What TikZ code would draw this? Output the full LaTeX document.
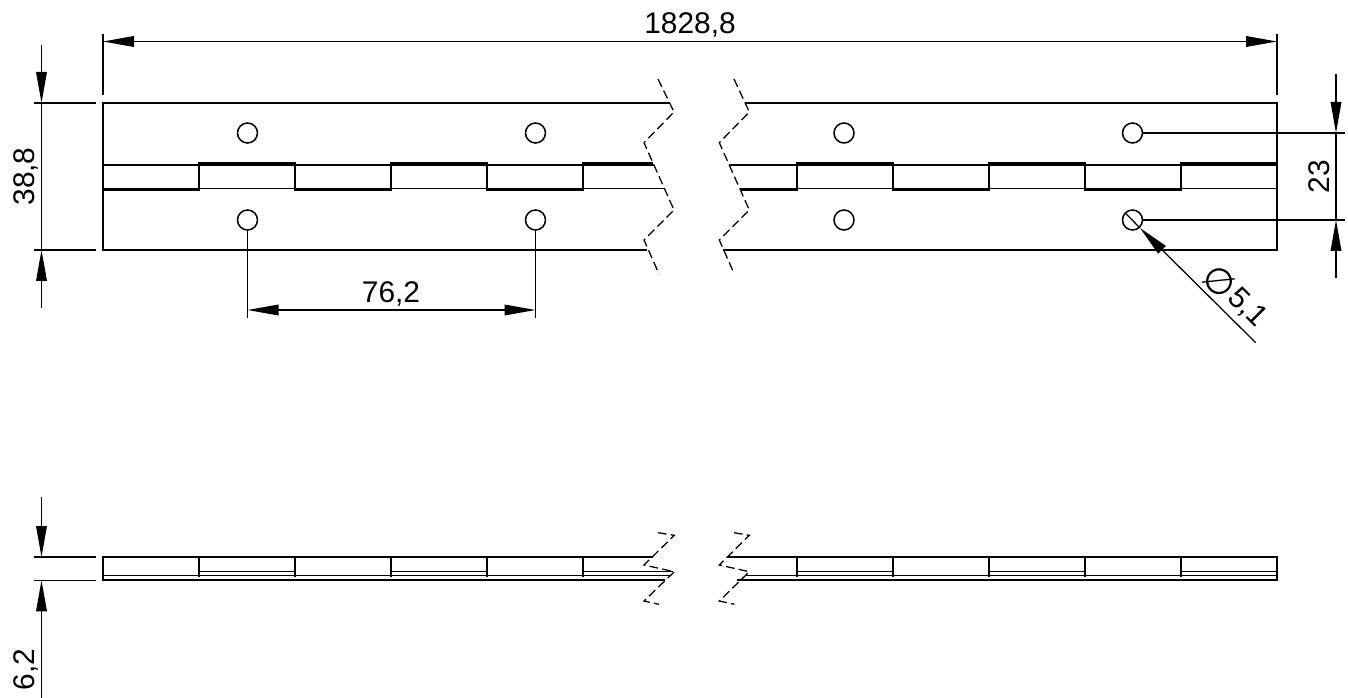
\documentclass[tikz,border=0pt]{standalone}
\usepackage{fontspec}
\setmainfont{Liberation Sans}
\newfontfamily\symfont{DejaVu Sans}
\usetikzlibrary{arrows.meta}
\tikzset{
  x=0.75pt,y=-0.75pt,
  thinline/.style={line width=1.0pt,black},
  heavy/.style={line width=1.4pt,black},
  dimline/.style={line width=0.95pt,black},
  dimarrow/.style={dimline,-{Triangle[length=23.25pt,width=8pt]}},
  breakline/.style={line width=0.95pt,black,dash pattern=on 6.5pt off 3.2pt},
  hole/.style={circle,draw,line width=1.15pt,minimum size=15pt,inner sep=0pt},
  dimtext/.style={font=\fontsize{22.4pt}{24pt}\selectfont,inner sep=0pt,anchor=base},
  phitext/.style={font=\fontsize{27pt}{28pt}\selectfont\symfont,inner sep=0pt},
}
\begin{document}
\begin{tikzpicture}
\useasboundingbox (0,0) rectangle (1348,698);
% ---------- plan view outline
\draw[heavy] (670,103) -- (103,103) -- (103,250) -- (647,250);
\draw[heavy] (745,103) -- (1277,103) -- (1277,250) -- (723,250);
% knuckles, left part
\draw[heavy] (103,165) -- (199,165);
\draw[heavy] (103,188.7) -- (199,188.7);
\draw[heavy] (103,190.5) -- (199,190.5);
\foreach \a/\b in {199/295,391/487}{
  \draw[heavy] (\a,163) -- (\b,163);
  \draw[heavy] (\a,165) -- (\b,165);
  \draw[thinline] (\a,188.5) -- (\b,188.5);
}
\foreach \a/\b in {295/391,487/583}{
  \draw[heavy] (\a,165) -- (\b,165);
  \draw[heavy] (\a,188.7) -- (\b,188.7);
  \draw[heavy] (\a,190.5) -- (\b,190.5);
}
\draw[heavy] (583,163) -- (652.5,163);
\draw[heavy] (583,165) -- (653.5,165);
\draw[thinline] (583,188.5) -- (664,188.5);
\foreach \v in {199,295,391,487,583}{\draw[heavy] (\v,162.3) -- (\v,191.2);}
% knuckles, right part
\draw[heavy] (729,165) -- (797,165);
\draw[heavy] (740,188.7) -- (797,188.7);
\draw[heavy] (741,190.5) -- (797,190.5);
\foreach \a/\b in {797/893,989/1085,1181/1277}{
  \draw[heavy] (\a,163) -- (\b,163);
  \draw[heavy] (\a,165) -- (\b,165);
  \draw[thinline] (\a,188.5) -- (\b,188.5);
}
\foreach \a/\b in {893/989,1085/1181}{
  \draw[heavy] (\a,165) -- (\b,165);
  \draw[heavy] (\a,188.7) -- (\b,188.7);
  \draw[heavy] (\a,190.5) -- (\b,190.5);
}
\foreach \v in {797,893,989,1085,1181}{\draw[heavy] (\v,162.3) -- (\v,191.2);}
% break lines, plan view
\draw[breakline] (658,79) -- (674,112) -- (644,142.7) -- (674,210) -- (644,240) -- (659,274);
\draw[breakline] (734,79) -- (749.3,112) -- (719.3,142.7) -- (749.3,210) -- (719.3,240) -- (734.3,274);
% holes
\node[hole] (h1) at (247.5,133) {};
\node[hole] (h2) at (535.5,133) {};
\node[hole] (h3) at (844,133) {};
\node[hole] (h4) at (1132.5,133) {};
\node[hole] (h5) at (247.5,220) {};
\node[hole] (h6) at (535.5,220) {};
\node[hole] (h7) at (844,220) {};
\node[hole] (h8) at (1132.5,220) {};
% ---------- overall length
\coordinate (lenL) at (103,41.5);
\coordinate (lenR) at (1277,41.5);
\draw[dimline] (103,34) -- (103,95.5);
\draw[dimline] (1277,34) -- (1277,95.5);
\draw[dimarrow] (690,41.5) -- (lenL);
\draw[dimarrow] (690,41.5) -- (lenR);
\node[dimtext] (t1) at (690,33.5) {1828,8};
% ---------- height 38,8
\coordinate (hT) at (41.5,103);
\coordinate (hB) at (41.5,250);
\draw[dimline] (33.5,103) -- (96,103);
\draw[dimline] (33.5,250) -- (96,250);
\draw[dimarrow] (41.5,44.7) -- (hT);
\draw[dimarrow] (41.5,308) -- (hB);
\draw[dimline] (hT) -- (hB);
\node[dimtext,rotate=90] (t2) at (34.5,176.5) {38,8};
% ---------- pitch 76,2
\coordinate (pL) at (h5 |- 0,310);
\coordinate (pR) at (h6 |- 0,310);
\draw[dimline] (h5.south) -- (h5 |- 0,318);
\draw[dimline] (h6.south) -- (h6 |- 0,318);
\draw[dimarrow] (391,310) -- (pL);
\draw[dimarrow] (391,310) -- (pR);
\node[dimtext] (t3) at (391,303) {76,2};
% ---------- hole spacing 23
\coordinate (sT) at (1336,133);
\coordinate (sB) at (1336,220);
\draw[dimline] (h4.east) -- (1345,133);
\draw[dimline] (h8.east) -- (1345,220);
\draw[dimarrow] (1336,74) -- (sT);
\draw[dimarrow] (1336,278) -- (sB);
\draw[dimline] (sT) -- (sB);
\node[dimtext,rotate=90] (t4) at (1329.5,176.5) {23};
% ---------- diameter
\coordinate (dTip) at (1140,228);
\coordinate (dEnd) at (1255.7,342.7);
\coordinate (dIn) at (1125,212.7);
\draw[dimline] (dIn) -- (dTip);
\draw[dimarrow] (dEnd) -- (dTip);
\node[phitext,rotate=-45] (t5a) at (1219,281.7) {∅};
\node[dimtext,rotate=-45,anchor=center] (t5b) at (1247,308) {5,1};
% ---------- side view
\draw[heavy] (652.5,557) -- (103,557) -- (103,580.3) -- (665,580.3);
\draw[heavy] (726.7,557) -- (1277,557) -- (1277,580.3) -- (737,580.3);
\draw[thinline] (103,575.5) -- (670,575.5);
\draw[thinline] (745,575.5) -- (1277,575.5);
\foreach \a/\b in {199/295,391/487,797/893,989/1085,1181/1277}{
  \draw[thinline] (\a,571.5) -- (\b,571.5);
}
\draw[thinline] (583,571.5) -- (673,571.5);
\foreach \v in {199,295,391,487,583,797,893,989,1085,1181}{\draw[heavy] (\v,557) -- (\v,576.6);}
\draw[breakline] (658,532.7) -- (674.3,535.3) -- (644,565) -- (674.3,571.7) -- (644,601) -- (659,604.3);
\draw[breakline] (734,532.7) -- (749.3,535.3) -- (719.3,565) -- (749.3,571.7) -- (719.3,601) -- (734.3,604.3);
% ---------- thickness 6,2
\coordinate (eT) at (41.5,557);
\coordinate (eB) at (41.5,580.3);
\draw[dimline] (33.5,557) -- (96,557);
\draw[dimline] (33.5,580.3) -- (96,580.3);
\draw[dimarrow] (41.5,497) -- (eT);
\draw[dimarrow] (41.5,698) -- (eB);
\node[dimtext,rotate=90] (t6) at (34.5,669.5) {6,2};
\end{tikzpicture}
\end{document}
